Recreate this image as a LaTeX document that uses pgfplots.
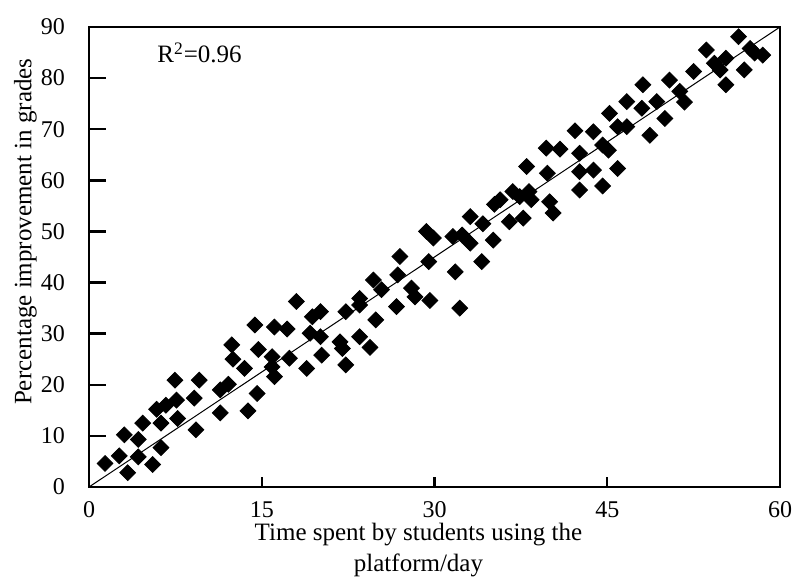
\documentclass[border=0pt]{standalone}
\usepackage{fontspec}
\setmainfont{Liberation Serif}
\usepackage{pgfplots}
\pgfplotsset{compat=1.18}

\pgfplotstableread{
x y
1.39 4.6
2.63 6.1
3.36 2.8
3.07 10.2
4.28 9.3
4.28 5.9
4.66 12.5
5.53 4.4
6.25 7.7
6.25 12.5
5.87 15.2
6.68 16.0
7.60 17.0
7.46 20.9
7.70 13.4
9.14 17.4
9.57 20.9
9.29 11.2
11.4 19.0
12.1 20.1
11.4 14.5
13.8 14.9
14.6 18.3
12.4 27.8
12.5 25.0
13.5 23.2
14.7 26.9
15.9 25.5
16.1 21.6
14.4 31.7
16.1 31.3
17.2 30.9
15.9 23.5
17.4 25.2
18.0 36.3
18.9 23.2
19.4 33.3
20.1 34.3
19.2 30.1
20.1 29.4
20.2 25.8
21.8 28.4
22.0 27.1
22.3 23.9
22.3 34.3
23.5 35.6
23.5 29.4
24.4 27.3
24.9 32.7
24.7 40.5
25.4 38.6
27.0 45.1
26.8 41.5
26.7 35.3
23.5 36.9
28.0 38.9
28.3 37.2
29.6 36.5
29.5 44.1
29.3 50.0
29.9 48.7
31.8 42.1
32.2 35.0
31.6 49.0
32.4 49.3
33.1 47.7
33.1 52.9
34.2 51.5
34.1 44.1
35.1 48.3
35.2 55.3
35.7 56.2
36.5 51.9
36.8 57.8
38.0 62.7
37.7 52.6
37.4 56.8
38.2 57.8
38.4 56.2
40.0 55.8
40.3 53.6
39.8 61.4
39.7 66.3
40.9 66.1
42.6 58.1
42.6 61.7
42.6 65.3
42.2 69.7
43.8 69.5
43.8 62.0
44.6 58.9
44.6 66.9
45.1 65.9
45.9 62.3
45.2 73.1
45.9 70.5
46.7 70.5
46.7 75.4
48.0 74.1
48.1 78.7
48.7 68.8
49.3 75.4
50.0 72.1
50.4 79.6
51.3 77.4
51.7 75.3
52.5 81.3
53.6 85.5
54.3 82.9
54.8 81.6
55.3 83.9
55.3 78.7
56.4 88.1
56.9 81.6
57.4 85.8
57.8 84.9
58.5 84.5
}\scores

\begin{document}
\begin{tikzpicture}
\begin{axis}[
  scale only axis, width=345.5pt, height=230pt,
  xmin=0, xmax=60, ymin=0, ymax=90,
  xtick={0,15,30,45,60}, ytick={0,10,...,90},
  tick align=inside, axis line style={line width=1.4pt},
  major tick style={line width=1.2pt, black},
  x tick style={/pgfplots/major tick length=5pt},
  y tick style={/pgfplots/major tick length=8.5pt},
  xtick pos=bottom, ytick pos=left,
  /pgf/number format/assume math mode=true,
  tick label style={font=\fontsize{12}{14}\selectfont},
  yticklabel style={xshift=-8.5pt},
  xticklabel style={inner sep=0pt, yshift=-7pt},
  xlabel={Time spent by students using the\\platform/day},
  xlabel style={at={(axis description cs:0.5,0)}, anchor=north, align=center,
    inner sep=0pt, font=\fontsize{12.5}{15.5}\selectfont, yshift=-18pt, xshift=-8pt},
  ylabel={Percentage improvement in grades},
  ylabel style={at={(axis description cs:-0.092,0.555)}, anchor=center,
    font=\fontsize{12.5}{15}\selectfont},
]
\addplot[black, line width=0.5pt] coordinates {(0,0) (60,90)};
\addplot[only marks, mark=square*, mark size=2.8pt, mark options={rotate=45, black, fill=black}] table {\scores};
\node[anchor=base west, inner sep=0pt, font=\fontsize{12.5}{15}\selectfont] at (axis cs:5.9,83.0) {R\textsuperscript{2}=0.96};
\coordinate (bl) at (rel axis cs:0,0);
\coordinate (tr) at (rel axis cs:1,1);
\end{axis}
\pgfresetboundingbox
\path (bl) ++(-44.5pt,-44.5pt) coordinate (pbl);
\path (tr) ++(9pt,13.5pt) coordinate (ptr);
\pgfresetboundingbox
\useasboundingbox (pbl) rectangle (ptr);
\end{tikzpicture}
\end{document}
